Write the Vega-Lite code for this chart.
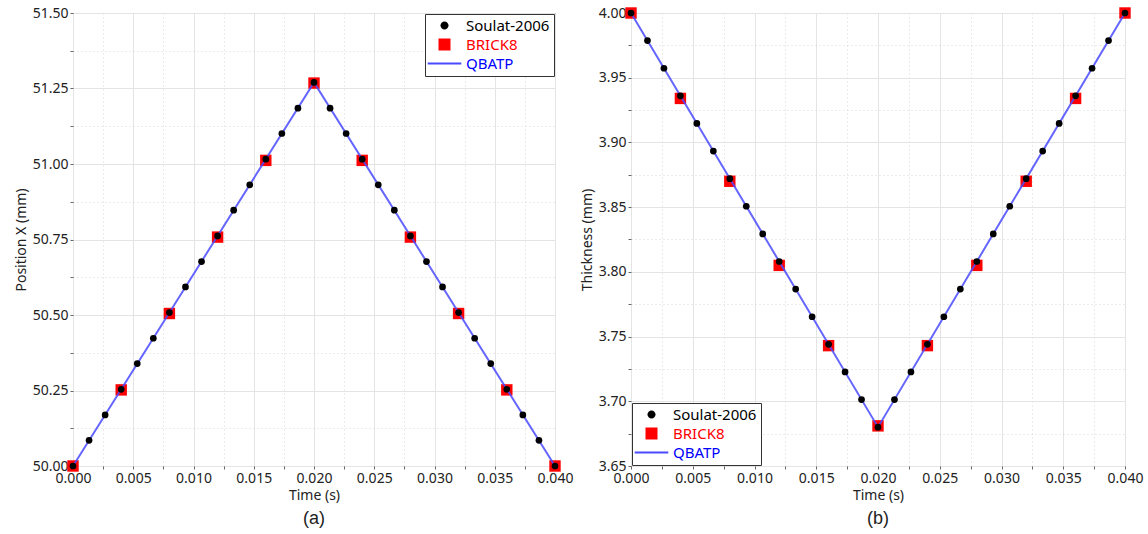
{
  "$schema": "https://vega.github.io/schema/vega-lite/v6.json",
  "background": "white",
  "padding": {"left": 13, "top": 5, "right": 5, "bottom": 5},
  "spacing": 5,
  "config": {
    "font": "Noto Sans",
    "view": {"stroke": "#444", "strokeWidth": 1},
    "axis": {
      "labelFontSize": 14, "labelColor": "#222", "labelFont": "Noto Sans",
      "titleFontSize": 14, "titleFontWeight": "normal", "titleColor": "#222", "titleFont": "Noto Sans",
      "domain": false, "tickSize": 3, "tickColor": "#666", "labelPadding": 2, "labelFlush": false
    },
    "title": {"fontSize": 18, "fontWeight": "normal", "font": "Liberation Sans", "color": "#222"},
    "legend": {
      "title": null, "strokeColor": "#333", "fillColor": "white", "padding": 4,
      "labelFontSize": 15, "labelFont": "Noto Sans", "rowPadding": 3, "offset": 1,
      "symbolSize": 144, "symbolOffset": 8, "labelOffset": 14, "symbolOpacity": 1,
      "symbolType": {"expr": "datum.value === 'QBATP' ? 'M-2.8,-0.17H2.8V0.17H-2.8Z' : datum.value === 'BRICK8' ? 'square' : 'M-0.67,0A0.67,0.67,0,1,0,0.67,0A0.67,0.67,0,1,0,-0.67,0Z'"},
      "labelColor": {"expr": "datum.value === 'QBATP' ? 'blue' : datum.value === 'BRICK8' ? 'red' : 'black'"}
    }
  },
  "datasets": {
    "pts": [
      {"series": "Soulat-2006", "t": 0.0, "pos": 50.0, "thick": 4.0},
      {"series": "Soulat-2006", "t": 0.001333, "pos": 50.085, "thick": 3.9787},
      {"series": "Soulat-2006", "t": 0.002667, "pos": 50.169, "thick": 3.9573},
      {"series": "Soulat-2006", "t": 0.004, "pos": 50.254, "thick": 3.936},
      {"series": "Soulat-2006", "t": 0.005333, "pos": 50.339, "thick": 3.9147},
      {"series": "Soulat-2006", "t": 0.006667, "pos": 50.423, "thick": 3.8933},
      {"series": "Soulat-2006", "t": 0.008, "pos": 50.508, "thick": 3.872},
      {"series": "Soulat-2006", "t": 0.009333, "pos": 50.593, "thick": 3.8507},
      {"series": "Soulat-2006", "t": 0.010667, "pos": 50.677, "thick": 3.8293},
      {"series": "Soulat-2006", "t": 0.012, "pos": 50.762, "thick": 3.808},
      {"series": "Soulat-2006", "t": 0.013333, "pos": 50.847, "thick": 3.7867},
      {"series": "Soulat-2006", "t": 0.014667, "pos": 50.931, "thick": 3.7653},
      {"series": "Soulat-2006", "t": 0.016, "pos": 51.016, "thick": 3.744},
      {"series": "Soulat-2006", "t": 0.017333, "pos": 51.101, "thick": 3.7227},
      {"series": "Soulat-2006", "t": 0.018667, "pos": 51.185, "thick": 3.7013},
      {"series": "Soulat-2006", "t": 0.02, "pos": 51.27, "thick": 3.68},
      {"series": "Soulat-2006", "t": 0.021333, "pos": 51.185, "thick": 3.7013},
      {"series": "Soulat-2006", "t": 0.022667, "pos": 51.101, "thick": 3.7227},
      {"series": "Soulat-2006", "t": 0.024, "pos": 51.016, "thick": 3.744},
      {"series": "Soulat-2006", "t": 0.025333, "pos": 50.931, "thick": 3.7653},
      {"series": "Soulat-2006", "t": 0.026667, "pos": 50.847, "thick": 3.7867},
      {"series": "Soulat-2006", "t": 0.028, "pos": 50.762, "thick": 3.808},
      {"series": "Soulat-2006", "t": 0.029333, "pos": 50.677, "thick": 3.8293},
      {"series": "Soulat-2006", "t": 0.030667, "pos": 50.593, "thick": 3.8507},
      {"series": "Soulat-2006", "t": 0.032, "pos": 50.508, "thick": 3.872},
      {"series": "Soulat-2006", "t": 0.033333, "pos": 50.423, "thick": 3.8933},
      {"series": "Soulat-2006", "t": 0.034667, "pos": 50.339, "thick": 3.9147},
      {"series": "Soulat-2006", "t": 0.036, "pos": 50.254, "thick": 3.936},
      {"series": "Soulat-2006", "t": 0.037333, "pos": 50.169, "thick": 3.9573},
      {"series": "Soulat-2006", "t": 0.038667, "pos": 50.085, "thick": 3.9787},
      {"series": "Soulat-2006", "t": 0.04, "pos": 50.0, "thick": 4.0},
      {"series": "BRICK8", "t": 0.0, "pos": 50.0, "thick": 4.0},
      {"series": "BRICK8", "t": 0.004, "pos": 50.252, "thick": 3.934},
      {"series": "BRICK8", "t": 0.008, "pos": 50.505, "thick": 3.870},
      {"series": "BRICK8", "t": 0.012, "pos": 50.758, "thick": 3.805},
      {"series": "BRICK8", "t": 0.016, "pos": 51.012, "thick": 3.743},
      {"series": "BRICK8", "t": 0.02, "pos": 51.268, "thick": 3.681},
      {"series": "BRICK8", "t": 0.024, "pos": 51.012, "thick": 3.743},
      {"series": "BRICK8", "t": 0.028, "pos": 50.758, "thick": 3.805},
      {"series": "BRICK8", "t": 0.032, "pos": 50.505, "thick": 3.870},
      {"series": "BRICK8", "t": 0.036, "pos": 50.252, "thick": 3.934},
      {"series": "BRICK8", "t": 0.04, "pos": 50.0, "thick": 4.0},
      {"series": "QBATP", "t": 0.0, "pos": 50.0, "thick": 4.0},
      {"series": "QBATP", "t": 0.01, "pos": 50.635, "thick": 3.84},
      {"series": "QBATP", "t": 0.02, "pos": 51.27, "thick": 3.68},
      {"series": "QBATP", "t": 0.03, "pos": 50.635, "thick": 3.84},
      {"series": "QBATP", "t": 0.04, "pos": 50.0, "thick": 4.0}
    ]
  },
  "resolve": {"scale": {"color": "independent", "y": "independent", "x": "independent"}, "legend": {"color": "independent"}},
  "hconcat": [
    {
      "width": 482, "height": 453,
      "title": {"text": "(a)", "orient": "bottom", "offset": 8},
      "data": {"name": "pts"},
      "encoding": {
        "x": {"field": "t", "type": "quantitative", "scale": {"domain": [0, 0.04], "nice": false},
          "axis": {"title": "Time (s)", "titlePadding": 3, "format": ".3f",
            "values": [0, 0.0025, 0.005, 0.0075, 0.01, 0.0125, 0.015, 0.0175, 0.02, 0.0225, 0.025, 0.0275, 0.03, 0.0325, 0.035, 0.0375, 0.04],
            "labelExpr": "abs(datum.value*200 - round(datum.value*200)) < 1e-6 ? datum.label : ''",
            "gridDash": {"condition": {"test": "abs(datum.value*200 - round(datum.value*200)) > 1e-6", "value": [1, 3]}, "value": []},
            "gridColor": {"condition": {"test": "abs(datum.value*200 - round(datum.value*200)) > 1e-6", "value": "#d8d8d8"}, "value": "#e4e4e4"}}},
        "y": {"field": "pos", "type": "quantitative", "scale": {"domain": [50, 51.5], "nice": false, "zero": false},
          "axis": {"title": "Position X (mm)", "titlePadding": 4, "format": ".2f",
            "values": [50, 50.125, 50.25, 50.375, 50.5, 50.625, 50.75, 50.875, 51, 51.125, 51.25, 51.375, 51.5],
            "labelExpr": "abs(datum.value*4 - round(datum.value*4)) < 1e-6 ? datum.label : ''",
            "gridDash": {"condition": {"test": "abs(datum.value*4 - round(datum.value*4)) > 1e-6", "value": [1, 3]}, "value": []},
            "gridColor": {"condition": {"test": "abs(datum.value*4 - round(datum.value*4)) > 1e-6", "value": "#d8d8d8"}, "value": "#e4e4e4"}}}
      },
      "layer": [
        {"transform": [{"filter": "datum.series === 'BRICK8'"}], "mark": {"type": "square", "size": 130, "opacity": 1, "filled": true, "color": "red"}},
        {"transform": [{"filter": "datum.series === 'QBATP'"}], "mark": {"type": "line", "strokeWidth": 2, "opacity": 0.85, "color": "#4a4aff"}},
        {"transform": [{"filter": "datum.series === 'Soulat-2006'"}], "mark": {"type": "circle", "size": 45, "opacity": 1},
          "encoding": {"color": {"field": "series", "type": "nominal",
          "scale": {"domain": ["Soulat-2006", "BRICK8", "QBATP"], "range": ["black", "red", "#4a4aff"]},
          "legend": {"orient": "top-right"}}}}
      ]
    },
    {
      "width": 494, "height": 453,
      "title": {"text": "(b)", "orient": "bottom", "offset": 8},
      "data": {"name": "pts"},
      "encoding": {
        "x": {"field": "t", "type": "quantitative", "scale": {"domain": [0, 0.04], "nice": false},
          "axis": {"title": "Time (s)", "titlePadding": 3, "format": ".3f",
            "values": [0, 0.0025, 0.005, 0.0075, 0.01, 0.0125, 0.015, 0.0175, 0.02, 0.0225, 0.025, 0.0275, 0.03, 0.0325, 0.035, 0.0375, 0.04],
            "labelExpr": "abs(datum.value*200 - round(datum.value*200)) < 1e-6 ? datum.label : ''",
            "gridDash": {"condition": {"test": "abs(datum.value*200 - round(datum.value*200)) > 1e-6", "value": [1, 3]}, "value": []},
            "gridColor": {"condition": {"test": "abs(datum.value*200 - round(datum.value*200)) > 1e-6", "value": "#d8d8d8"}, "value": "#e4e4e4"}}},
        "y": {"field": "thick", "type": "quantitative", "scale": {"domain": [3.65, 4.0], "nice": false, "zero": false},
          "axis": {"title": "Thickness (mm)", "titlePadding": 4, "format": ".2f",
            "values": [3.65, 3.675, 3.7, 3.725, 3.75, 3.775, 3.8, 3.825, 3.85, 3.875, 3.9, 3.925, 3.95, 3.975, 4.0],
            "labelExpr": "abs(datum.value*20 - round(datum.value*20)) < 1e-6 ? datum.label : ''",
            "gridDash": {"condition": {"test": "abs(datum.value*20 - round(datum.value*20)) > 1e-6", "value": [1, 3]}, "value": []},
            "gridColor": {"condition": {"test": "abs(datum.value*20 - round(datum.value*20)) > 1e-6", "value": "#d8d8d8"}, "value": "#e4e4e4"}}}
      },
      "layer": [
        {"transform": [{"filter": "datum.series === 'BRICK8'"}], "mark": {"type": "square", "size": 130, "opacity": 1, "filled": true, "color": "red"}},
        {"transform": [{"filter": "datum.series === 'QBATP'"}], "mark": {"type": "line", "strokeWidth": 2, "opacity": 0.85, "color": "#4a4aff"}},
        {"transform": [{"filter": "datum.series === 'Soulat-2006'"}], "mark": {"type": "circle", "size": 45, "opacity": 1},
          "encoding": {"color": {"field": "series", "type": "nominal",
          "scale": {"domain": ["Soulat-2006", "BRICK8", "QBATP"], "range": ["black", "red", "#4a4aff"]},
          "legend": {"orient": "bottom-left"}}}}
      ]
    }
  ]
}
